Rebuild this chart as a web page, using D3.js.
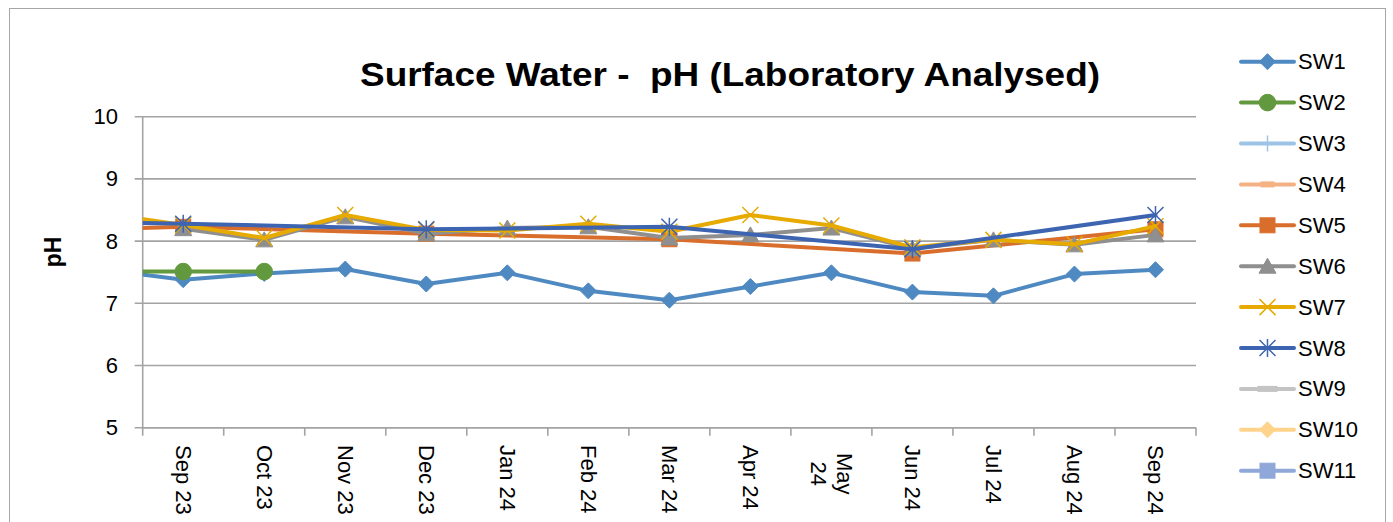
<!DOCTYPE html>
<html><head><meta charset="utf-8">
<script src="https://cdn.jsdelivr.net/npm/d3@7"></script>
<style>
body{margin:0;background:#fff;}
svg{display:block;font-family:"Liberation Sans",Arial,sans-serif;}
</style>
</head><body>
<svg id="chart" width="1393" height="522"></svg>
<script>
// ---------- DATA ----------
// First category lies just left of the plot area (clipped, as in the source chart)
const categories = ["Aug 23","Sep 23","Oct 23","Nov 23","Dec 23","Jan 24","Feb 24","Mar 24","Apr 24","May 24","Jun 24","Jul 24","Aug 24","Sep 24"];
const hiddenCategories = ["Aug 23"];
const seriesNames = ["SW1","SW2","SW3","SW4","SW5","SW6","SW7","SW8","SW9","SW10","SW11"];
const SW1  = [7.54, 7.38, 7.48, 7.55, 7.31, 7.49, 7.20, 7.05, 7.27, 7.49, 7.18, 7.12, 7.47, 7.54];
const SW2  = [7.51, 7.51, 7.51, null, null, null, null, null, null, null, null, null, null, null];
const SW3  = [null, null, null, null, null, null, null, null, null, null, null, null, null, null];
const SW4  = [null, null, null, null, null, null, null, null, null, null, null, null, null, null];
const SW5  = [8.19, 8.23, null, null, 8.12, null, null, 8.03, null, null, 7.80, null, null, 8.19];
const SW6  = [null, 8.20, 8.02, 8.39, 8.12, 8.21, 8.23, 8.05, 8.10, 8.21, 7.88, 8.02, 7.94, 8.10];
const SW7  = [8.45, 8.26, 8.05, 8.42, 8.18, 8.17, 8.28, 8.15, 8.42, 8.25, 7.90, 8.02, 7.95, 8.24];
const SW8  = [8.30, 8.28, null, null, 8.19, null, null, 8.23, null, null, 7.87, null, null, 8.42];
const SW9  = [null, null, null, null, null, null, null, null, null, null, null, null, null, null];
const SW10 = [null, null, null, null, null, null, null, null, null, null, null, null, null, null];
const SW11 = [null, null, null, null, null, null, null, null, null, null, null, null, null, null];
const seriesValues = [SW1, SW2, SW3, SW4, SW5, SW6, SW7, SW8, SW9, SW10, SW11];
const yTicks = [5, 6, 7, 8, 9, 10];
const yDomain = [5, 10];
const titleText = "Surface Water -  pH (Laboratory Analysed)";
const yAxisTitle = "pH";
const wrappedLabels = {"May 24": ["May", "24"]};

// ---------- STYLE ----------
const colors  = ["#4F89C1","#62993E","#9DC3E6","#F4B183","#D96E2C","#8F8F8F","#E6AA00","#3D64B0","#C4C4C4","#FFD38C","#8FA8D9"];
const markers = ["diamond","circle","plus","dash","square","triangle","x","star","longdash","diamond","square"];

const W = 1393, H = 522;
const plot = {left: 142.7, right: 1196, top: 116.7, bottom: 427.7};
const svg = d3.select("#chart");

// chart border
svg.append("rect").attr("x", 9.5).attr("y", 8.5).attr("width", 1376).attr("height", 540)
  .attr("fill", "#fff").attr("stroke", "#A6A6A6").attr("stroke-width", 1);

// scales
const visibleCount = categories.length - hiddenCategories.length;
const step = (plot.right - plot.left) / visibleCount;
const x = d3.scaleBand().domain(categories)
  .range([plot.left - step * hiddenCategories.length, plot.right]).paddingInner(0).paddingOuter(0);
const cx = c => x(c) + x.bandwidth() / 2;
const y = d3.scaleLinear().domain(yDomain).range([plot.bottom, plot.top]);

// gridlines
const grid = svg.append("g");
grid.selectAll("line").data(yTicks).join("line")
  .attr("x1", plot.left - 8).attr("x2", plot.right)
  .attr("y1", d => y(d)).attr("y2", d => y(d))
  .attr("stroke", "#A3A3A3").attr("stroke-width", 1.6);

// y axis line
svg.append("line").attr("x1", plot.left).attr("x2", plot.left)
  .attr("y1", plot.top).attr("y2", plot.bottom).attr("stroke", "#A3A3A3").attr("stroke-width", 1.6);

// y tick labels
svg.append("g").selectAll("text").data(yTicks).join("text")
  .attr("x", 118).attr("y", d => y(d)).attr("text-anchor", "end")
  .attr("dominant-baseline", "central").attr("font-size", 22).attr("fill", "#000")
  .text(d => d);

// x axis
const visibleCats = categories.filter(c => !hiddenCategories.includes(c));
svg.append("line").attr("x1", plot.left).attr("x2", plot.right)
  .attr("y1", plot.bottom).attr("y2", plot.bottom).attr("stroke", "#A3A3A3").attr("stroke-width", 1.6);
const tickPos = visibleCats.map(c => x(c)).concat([x(visibleCats[visibleCats.length - 1]) + x.bandwidth()]);
svg.append("g").selectAll("line").data(tickPos).join("line")
  .attr("x1", d => d).attr("x2", d => d).attr("y1", plot.bottom).attr("y2", plot.bottom + 8)
  .attr("stroke", "#A3A3A3").attr("stroke-width", 1.6);

// x labels (rotated, reading top-down)
const lh = 26;
const xl = svg.append("g").attr("font-size", 22).attr("fill", "#000");
visibleCats.forEach(c => {
  const lines = wrappedLabels[c] || [c];
  const g = xl.append("g").attr("transform", `translate(${cx(c)},445) rotate(90)`);
  const n = lines.length;
  const texts = lines.map((l, i) => g.append("text")
    .attr("y", (i - (n - 1) / 2) * lh)
    .attr("dominant-baseline", "central").text(l));
  if (n > 1) {
    const maxW = d3.max(texts, t => t.node().getComputedTextLength());
    texts.forEach(t => t.attr("x", maxW / 2 + 8).attr("text-anchor", "middle"));
  } else {
    texts[0].attr("x", 0).attr("text-anchor", "start");
  }
});

// title
svg.append("text").attr("x", 730).attr("y", 86).attr("text-anchor", "middle")
  .attr("font-size", 33).attr("font-weight", "bold").style("white-space", "pre")
  .attr("textLength", 740).attr("lengthAdjust", "spacingAndGlyphs")
  .text(titleText);

// y axis title
svg.append("text").attr("transform", "translate(53,252) rotate(-90)")
  .attr("text-anchor", "middle").attr("dominant-baseline", "central")
  .attr("font-size", 23).attr("font-weight", "bold").text(yAxisTitle);

// markers
function drawMarker(g, type, color, px, py) {
  const s = 8;
  switch (type) {
    case "diamond":
      g.append("path").attr("d", `M${px},${py - s}L${px + s},${py}L${px},${py + s}L${px - s},${py}Z`)
        .attr("fill", color).attr("stroke", color).attr("stroke-width", 1); break;
    case "circle":
      g.append("circle").attr("cx", px).attr("cy", py).attr("r", 8.3).attr("fill", color).attr("stroke", color); break;
    case "square":
      g.append("rect").attr("x", px - 7.5).attr("y", py - 7.5).attr("width", 15).attr("height", 15)
        .attr("fill", color).attr("stroke", color); break;
    case "triangle":
      g.append("path").attr("d", `M${px},${py - 8}L${px + 8.5},${py + 7}L${px - 8.5},${py + 7}Z`)
        .attr("fill", color).attr("stroke", color); break;
    case "x":
      g.append("path").attr("d", `M${px - s},${py - s}L${px + s},${py + s}M${px - s},${py + s}L${px + s},${py - s}`)
        .attr("stroke", color).attr("stroke-width", 1.5).attr("fill", "none"); break;
    case "star":
      g.append("path").attr("d", `M${px - s},${py - s}L${px + s},${py + s}M${px - s},${py + s}L${px + s},${py - s}M${px},${py - s - 1}L${px},${py + s + 1}`)
        .attr("stroke", color).attr("stroke-width", 1.5).attr("fill", "none"); break;
    case "plus":
      g.append("path").attr("d", `M${px},${py - s}L${px},${py + s}M${px - s},${py}L${px + s},${py}`)
        .attr("stroke", color).attr("stroke-width", 1.5).attr("fill", "none"); break;
    case "dash":
      g.append("rect").attr("x", px - 7).attr("y", py - 3).attr("width", 14).attr("height", 6).attr("fill", color); break;
    case "longdash":
      g.append("rect").attr("x", px - 10).attr("y", py - 3).attr("width", 20).attr("height", 6).attr("fill", color); break;
  }
}

// clip
svg.append("clipPath").attr("id", "clip").append("rect")
  .attr("x", plot.left).attr("y", 0).attr("width", plot.right - plot.left).attr("height", H);
const plotG = svg.append("g").attr("clip-path", "url(#clip)");

const line = d3.line().x(d => cx(d.c)).y(d => y(d.v));
seriesValues.forEach((vals, i) => {
  const pts = categories.map((c, j) => ({c, v: vals[j]})).filter(d => d.v != null);
  const g = plotG.append("g");
  if (pts.length > 1) {
    g.append("path").datum(pts).attr("d", line).attr("fill", "none")
      .attr("stroke", colors[i]).attr("stroke-width", 4).attr("stroke-linejoin", "round").attr("stroke-linecap", "round");
  }
  pts.forEach(d => drawMarker(g, markers[i], colors[i], cx(d.c), y(d.v)));
});

// legend
const lg = svg.append("g");
seriesNames.forEach((name, i) => {
  const ry = 61.7 + i * 40.9;
  lg.append("line").attr("x1", 1241).attr("x2", 1294).attr("y1", ry).attr("y2", ry)
    .attr("stroke", colors[i]).attr("stroke-width", 4).attr("stroke-linecap", "round");
  drawMarker(lg, markers[i], colors[i], 1267.5, ry);
  lg.append("text").attr("x", 1298).attr("y", ry).attr("dominant-baseline", "central")
    .attr("font-size", 22).attr("fill", "#000").text(name);
});
</script>
</body></html>
